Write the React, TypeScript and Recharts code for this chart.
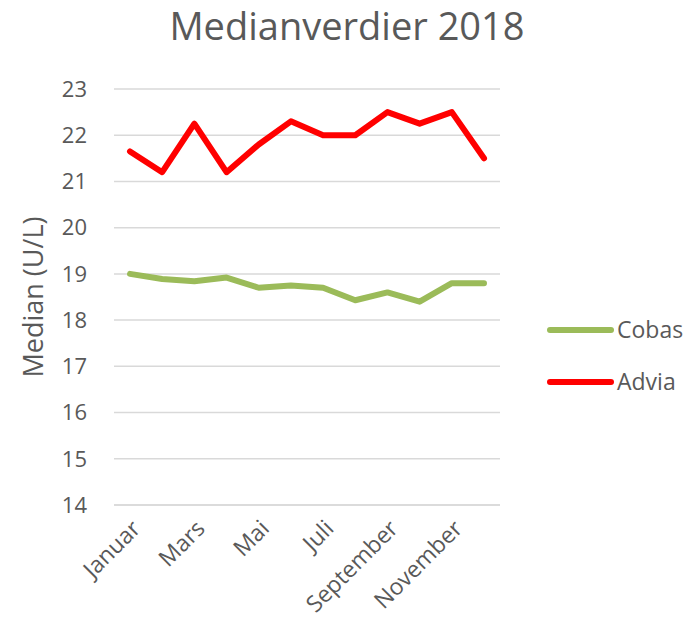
import React from "react";
import { LineChart, Line, XAxis, YAxis, CartesianGrid } from "recharts";

const months = [
  "Januar", "Februar", "Mars", "April", "Mai", "Juni",
  "Juli", "August", "September", "Oktober", "November", "Desember",
];
const cobas = [19.0, 18.89, 18.84, 18.92, 18.7, 18.75, 18.7, 18.43, 18.6, 18.4, 18.8, 18.8];
const advia = [21.65, 21.2, 22.25, 21.2, 21.8, 22.3, 22.0, 22.0, 22.5, 22.25, 22.5, 21.5];
const yTicks = [14, 15, 16, 17, 18, 19, 20, 21, 22, 23];

const series = [
  { key: "Cobas", color: "#9BBB59" },
  { key: "Advia", color: "#FF0000" },
];

const FONT = "'Open Sans', sans-serif";
const TEXT = "#595959";

const data = months.map((m, i) => ({ month: m, Cobas: cobas[i], Advia: advia[i] }));

function MonthTick(props: any) {
  const { x, y, payload } = props;
  const tx = x + 12;
  const ty = y + 17;
  return (
    <text
      x={tx}
      y={ty}
      transform={`rotate(-45 ${tx} ${ty})`}
      textAnchor="end"
      fill={TEXT}
      fontSize={23}
      fontFamily={FONT}
    >
      {payload.value}
    </text>
  );
}

export default function App() {
  return (
    <div style={{ position: "absolute", left: 0, top: 0, width: 694, height: 632, background: "#fff" }}>
      <div
        style={{
          position: "absolute", left: 0, top: 0, width: 694, textAlign: "center",
          fontFamily: FONT, fontSize: 38, color: TEXT, lineHeight: "50px",
        }}
      >
        Medianverdier 2018
      </div>
      <LineChart
        width={694}
        height={632}
        data={data}
        margin={{ top: 89, right: 194, bottom: 0, left: 0 }}
      >
        <CartesianGrid vertical={false} stroke="#D9D9D9" strokeWidth={1.5} />
        <XAxis
          dataKey="month"
          interval={1}
          tick={<MonthTick />}
          tickLine={false}
          axisLine={{ stroke: "#D9D9D9", strokeWidth: 1.5 }}
          height={127}
          padding={{ left: 16, right: 16 }}
        />
        <YAxis
          width={114}
          domain={[14, 23]}
          ticks={yTicks}
          interval={0}
          tickLine={false}
          axisLine={false}
          tickSize={0}
          tickMargin={27}
          tick={{ fill: TEXT, fontSize: 22, fontFamily: FONT }}
          label={{
            value: "Median (U/L)", angle: -90, position: "insideLeft", offset: 33,
            style: { fill: TEXT, fontSize: 27, fontFamily: FONT, textAnchor: "middle" },
          }}
        />
        {series.map((s) => (
          <Line
            key={s.key}
            dataKey={s.key}
            stroke={s.color}
            strokeWidth={6}
            dot={false}
            strokeLinejoin="round"
            strokeLinecap="round"
            isAnimationActive={false}
          />
        ))}
      </LineChart>
      <svg
        width={146}
        height={90}
        style={{ position: "absolute", left: 545, top: 310 }}
      >
        {series.map((s, i) => (
          <g key={s.key}>
            <line x1={5} x2={66} y1={20 + i * 52} y2={20 + i * 52} stroke={s.color} strokeWidth={6} strokeLinecap="round" />
            <text x={72} y={28 + i * 52} fill={TEXT} fontSize={23} fontFamily={FONT}>
              {s.key}
            </text>
          </g>
        ))}
      </svg>
    </div>
  );
}
